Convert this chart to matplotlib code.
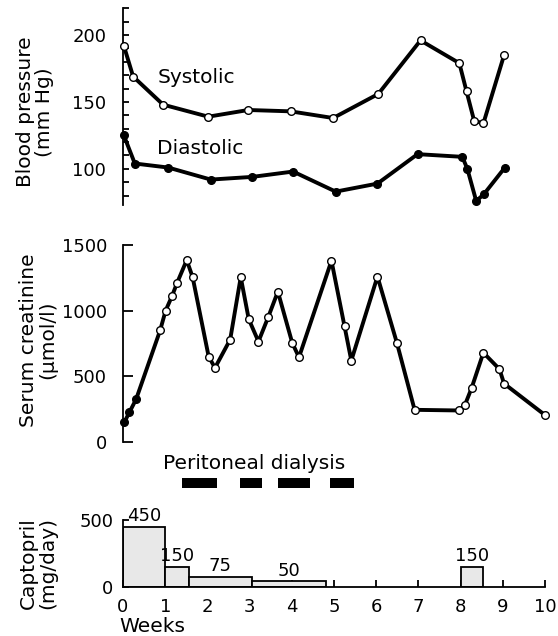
import numpy as np
import matplotlib
matplotlib.use('Agg')
import matplotlib.pyplot as plt

plt.rcdefaults()
plt.rc('font', size=13)
plt.rc('xtick', labelsize=13)
plt.rc('ytick', labelsize=13)
plt.rc('font', family='DejaVu Sans')
WORDS = 14.5

W, H = 558, 636
RES = 100

# DATA
sys_wk = [0.02, 0.24, 0.95, 2.02, 2.97, 3.97, 4.98, 6.05, 7.05, 7.97, 8.14, 8.32, 8.54, 9.03]
sys_val = [192, 169, 148, 139, 144, 143, 138, 156, 196, 179, 158, 136, 134, 185]

dia_wk = [0.02, 0.28, 1.07, 2.08, 3.06, 4.03, 5.04, 6.03, 6.98, 8.04, 8.16, 8.37, 8.55, 9.05]
dia_val = [125, 104, 101, 92, 94, 98, 83, 89, 111, 109, 100, 76, 81, 101]

cre_wk = [0.03, 0.15, 0.31, 0.88, 1.01, 1.16, 1.28, 1.51, 1.65, 2.03, 2.18, 2.54, 2.79, 2.98,
          3.21, 3.44, 3.67, 4.01, 4.17, 4.94, 5.25, 5.41, 6.03, 6.49, 6.91, 7.97, 8.10, 8.26,
          8.54, 8.92, 9.03, 10.0]
cre_val = [150, 225, 325, 850, 1000, 1110, 1210, 1385, 1255, 650, 565, 780, 1255, 935,
           765, 950, 1145, 755, 645, 1380, 880, 620, 1260, 755, 245, 240, 280, 410,
           680, 555, 445, 205]
cre_filled = 3  # first points drawn filled

cap_start = [0, 1.0, 1.57, 3.05, 8.0]
cap_end = [1.0, 1.57, 3.05, 4.8, 8.53]
cap_dose = [450, 150, 75, 40, 150]
cap_label = ['450', '150', '75', '50', '150']

dial_start = [1.39, 2.77, 3.68, 4.9]
dial_end = [2.22, 3.29, 4.42, 5.47]

# LAYOUT (pixel helpers)
x0, x1 = 123, 545
def axrect(ytop, ybot):
    return [x0 / W, 1 - ybot / H, (x1 - x0) / W, (ybot - ytop) / H]

fig = plt.figure(figsize=(W / RES, H / RES), dpi=RES)
ax1 = fig.add_axes(axrect(8.3, 205))
ax2 = fig.add_axes(axrect(245, 442))
ax3 = fig.add_axes(axrect(520, 586.7))

for ax in (ax1, ax2, ax3):
    ax.set_xlim(0, 10)
    ax.spines['top'].set_visible(False)
    ax.spines['right'].set_visible(False)
    ax.spines['left'].set_linewidth(1.3)
    ax.spines['bottom'].set_linewidth(1.3)
    ax.patch.set_alpha(0)

lw = 2.8
# BLOOD PRESSURE
ax1.plot(sys_wk, sys_val, color='black', lw=lw, marker='o', ms=5.5, mfc='white',
         mec='black', mew=1.0, clip_on=False, zorder=3)
ax1.plot(dia_wk, dia_val, color='black', lw=lw, marker='o', ms=5.5, mfc='black',
         mec='black', clip_on=False, zorder=3)
ax1.set_ylim(73, 220)
ax1.spines['bottom'].set_visible(False)
ax1.set_xticks([])
ax1.set_yticks([100, 150, 200])
ax1.set_yticks(np.arange(80, 221, 10), minor=True)
ax1.tick_params(axis='y', which='both', direction='in', length=4, width=1.3, pad=12)
ax1.text(0.81, 168.5, 'Systolic', va='center', ha='left', fontsize=WORDS)
ax1.text(0.81, 115, 'Diastolic', va='center', ha='left', fontsize=WORDS)

# SERUM CREATININE
ax2.plot(cre_wk, cre_val, color='black', lw=lw, zorder=2, clip_on=False)
ax2.plot(cre_wk[cre_filled:], cre_val[cre_filled:], ls='none', marker='o', ms=5.5,
         mfc='white', mec='black', mew=1.0, zorder=3, clip_on=False)
ax2.plot(cre_wk[:cre_filled], cre_val[:cre_filled], ls='none', marker='o', ms=5.5,
         mfc='black', mec='black', zorder=3, clip_on=False)
ax2.set_ylim(0, 1500)
ax2.spines['bottom'].set_visible(False)
ax2.set_xticks([])
ax2.set_yticks([0, 500, 1000, 1500])
ax2.tick_params(axis='y', direction='in', length=7, width=1.3, pad=11.5)

# CAPTOPRIL
for s, e, d, lab in zip(cap_start, cap_end, cap_dose, cap_label):
    ax3.bar(s, d, width=e - s, align='edge', color='#e8e8e8', edgecolor='black',
            linewidth=1.3, zorder=2)
    ax3.text((s + e) / 2, d + 12, lab, ha='center', va='bottom')
ax3.set_ylim(0, 500)
ax3.set_yticks([0, 500])
ax3.set_yticks([100, 200, 300, 400], minor=True)
ax3.set_xticks(range(0, 11))
ax3.tick_params(axis='y', which='both', direction='in', length=4, width=1.3, pad=7)
ax3.tick_params(axis='x', direction='in', length=5, width=1.3, pad=8)
for t in ax3.yaxis.get_major_ticks() + ax3.yaxis.get_minor_ticks() + ax3.xaxis.get_major_ticks():
    t.tick1line.set_zorder(5)

# PERITONEAL DIALYSIS
for s, e in zip(dial_start, dial_end):
    ax3.bar(s, 75, width=e - s, bottom=738, align='edge', color='black', clip_on=False)
ax3.text(3.1, 925, 'Peritoneal dialysis', ha='center', va='center', fontsize=WORDS)

ax3.text(-0.08, -0.6, 'Weeks', transform=ax3.get_xaxis_transform(), ha='left',
         va='center', fontsize=WORDS)

# Y LABELS
fig.text(35 / W, 1 - 112 / H, 'Blood pressure\n(mm Hg)', rotation=90, ha='center',
         va='center', multialignment='center', linespacing=1.0, fontsize=WORDS)
fig.text(38 / W, 1 - 340 / H, 'Serum creatinine\n(\u03bcmol/l)', rotation=90, ha='center',
         va='center', multialignment='center', linespacing=1.0, fontsize=WORDS)
fig.text(38 / W, 1 - 563 / H, 'Captopril\n(mg/day)', rotation=90, ha='center',
         va='center', multialignment='center', linespacing=1.0, fontsize=WORDS)

plt.savefig('out.png', dpi=RES)
